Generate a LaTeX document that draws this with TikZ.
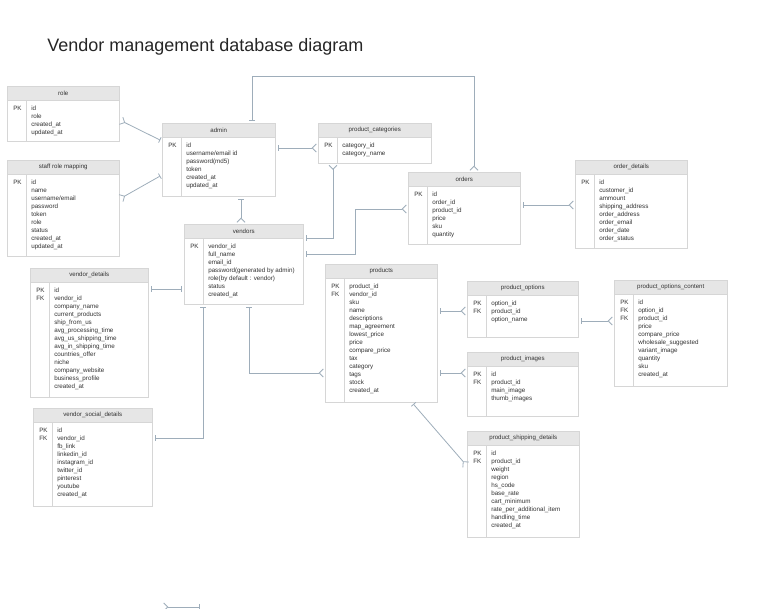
\documentclass[tikz,border=0pt]{standalone}
\usepackage{fontspec}
\setmainfont{Liberation Sans}
\usepackage{xcolor}
\usepackage{tikz}
\usetikzlibrary{arrows.meta, positioning, calc}

\definecolor{bordegris}{HTML}{D6D6D6}
\definecolor{cabezagris}{HTML}{E6E6E6}
\definecolor{relgris}{HTML}{9EADBA}
\definecolor{textogris}{HTML}{333333}

\tikzset{
    titulo/.style={anchor=west, inner sep=0pt, font=\fontsize{13.5}{16}\selectfont, text=black!85},
    caja/.style={draw=bordegris, fill=white, anchor=north west, inner sep=0pt},
    cabeza/.style={draw=bordegris, fill=cabezagris, anchor=north west, inner sep=0pt,
        minimum height=10.5pt, font=\fontsize{4.6}{6}\selectfont, text=textogris},
    campo/.style={anchor=north west, inner sep=0pt, align=left, font=\fontsize{4.7}{6}\selectfont, text=textogris},
    rel/.style={draw=relgris, line width=0.6pt},
    uno-muchos/.style={rel, arrows={Bar[width=4.5pt,sep=1.5pt]-Straight Barb[reversed,length=3pt,width=6pt,sep=1pt]}},
    muchos-uno/.style={rel, arrows={Straight Barb[reversed,length=3pt,width=6pt,sep=1pt]-Bar[width=4.5pt,sep=1.5pt]}},
    uno-uno/.style={rel, arrows={Bar[width=4.5pt,sep=1.5pt]-Bar[width=4.5pt,sep=1.5pt]}}
}

% Tabla: nombre, x, y, ancho, alto, titulo, claves, campos
\newcommand{\tabla}[8]{
    \node[caja, minimum width={#4*0.75pt}, minimum height={#5*0.75pt}] (#1) at (#2,#3) {};
    \node[cabeza, minimum width={#4*0.75pt}] (#1-h) at (#1.north west) {#6};
    \draw[bordegris] ($(#1-h.south west)+(19,0)$) -- ($(#1.south west)+(19,0)$);
    \node[campo] (#1-k) at ($(#1-h.south west)+(6,5)$) {#7};
    \node[campo] (#1-f) at ($(#1-h.south west)+(24,5)$) {#8};
}

\begin{document}
\begin{tikzpicture}[x=0.75pt, y=-0.75pt]
    \useasboundingbox (0,0) rectangle (761,609);

    % Titulo
    \node[titulo] (titulo) at (47,47) {Vendor management database diagram};

    % Tablas de usuarios
    \tabla{role}{7}{86}{112}{55}{role}{PK}{id\\role\\created\_at\\updated\_at}
    \tabla{staffrole}{7}{160}{112}{96}{staff role mapping}{PK}{id\\name\\username/email\\password\\token\\role\\status\\created\_at\\updated\_at}
    \tabla{admin}{162}{123}{113}{73}{admin}{PK}{id\\username/email id\\password(md5)\\token\\created\_at\\updated\_at}
    \tabla{categories}{318}{123}{113}{40}{product\_categories}{PK}{category\_id\\category\_name}
    \tabla{vendors}{184}{224}{119}{80}{vendors}{PK}{vendor\_id\\full\_name\\email\_id\\password(generated by admin)\\role(by default : vendor)\\status\\created\_at}

    % Pedidos
    \tabla{orders}{408}{172}{112}{72}{orders}{PK}{id\\order\_id\\product\_id\\price\\sku\\quantity}
    \tabla{orderdetails}{575}{160}{112}{88}{order\_details}{PK}{id\\customer\_id\\ammount\\shipping\_address\\order\_address\\order\_email\\order\_date\\order\_status}

    % Datos del vendedor
    \tabla{vendordetails}{30}{268}{118}{129}{vendor\_details}{PK\\FK}{id\\vendor\_id\\company\_name\\current\_products\\ship\_from\_us\\avg\_processing\_time\\avg\_us\_shipping\_time\\avg\_in\_shipping\_time\\countries\_offer\\niche\\company\_website\\business\_profile\\created\_at}
    \tabla{vendorsocial}{33}{408}{119}{98}{vendor\_social\_details}{PK\\FK}{id\\vendor\_id\\fb\_link\\linkedin\_id\\instagram\_id\\twitter\_id\\pinterest\\youtube\\created\_at}

    % Productos
    \tabla{products}{325}{264}{112}{138}{products}{PK\\FK}{product\_id\\vendor\_id\\sku\\name\\descriptions\\map\_agreement\\lowest\_price\\price\\compare\_price\\tax\\category\\tags\\stock\\created\_at}
    \tabla{options}{467}{281}{111}{56}{product\_options}{PK\\FK}{option\_id\\product\_id\\option\_name}
    \tabla{images}{467}{352}{111}{64}{product\_images}{PK\\FK}{id\\product\_id\\main\_image\\thumb\_images}
    \tabla{shipping}{467}{431}{112}{106}{product\_shipping\_details}{PK\\FK}{id\\product\_id\\weight\\region\\hs\_code\\base\_rate\\cart\_minimum\\rate\_per\_additional\_item\\handling\_time\\created\_at}
    \tabla{optionscontent}{614}{280}{113}{106}{product\_options\_content}{PK\\FK\\FK}{id\\option\_id\\product\_id\\price\\compare\_price\\wholesale\_suggested\\variant\_image\\quantity\\sku\\created\_at}

    % Relaciones
    \draw[muchos-uno] ($(role.north east)+(0,34)$) -- ($(admin.north west)+(0,18)$);
    \draw[muchos-uno] ($(staffrole.north east)+(0,39)$) -- ($(admin.north west)+(0,52)$);
    \draw[uno-muchos] ($(admin.north west)+(90,0)$) -- ++(0,-47) -| ($(orders.north west)+(66,0)$);
    \draw[uno-muchos] ($(admin.north east)+(0,25)$) -- ($(categories.north west)+(0,25)$);
    \draw[uno-muchos] ($(admin.south west)+(79,0)$) -- ($(vendors.north west)+(57,0)$);
    \draw[muchos-uno] ($(categories.south west)+(15,0)$) |- ($(vendors.north east)+(0,14)$);
    \draw[uno-muchos] ($(vendors.north east)+(0,30)$) -- ++(52,0) |- ($(orders.north west)+(0,37)$);
    \draw[uno-muchos] ($(orders.north east)+(0,33)$) -- ($(orderdetails.north west)+(0,45)$);
    \draw[uno-uno] ($(vendordetails.north east)+(0,21)$) -- ($(vendors.north west)+(0,65)$);
    \draw[uno-uno] ($(vendors.south west)+(19,0)$) |- ($(vendorsocial.north east)+(0,30)$);
    \draw[uno-muchos] ($(vendors.south west)+(65,0)$) |- ($(products.north west)+(0,109)$);
    \draw[uno-muchos] ($(products.north east)+(0,47)$) -- ($(options.north west)+(0,30)$);
    \draw[uno-muchos] ($(products.north east)+(0,109)$) -- ($(images.north west)+(0,21)$);
    \draw[uno-muchos] ($(options.north east)+(0,40)$) -- ($(optionscontent.north west)+(0,41)$);
    \draw[uno-muchos] ($(products.south west)+(87,0)$) -- ($(shipping.north west)+(0,35)$);

    % Trazo suelto abajo
    \coordinate (sueltoA) at (162,607);
    \coordinate (sueltoB) at (202,607);
    \draw[muchos-uno] (sueltoA) -- (sueltoB);

\end{tikzpicture}
\end{document}
